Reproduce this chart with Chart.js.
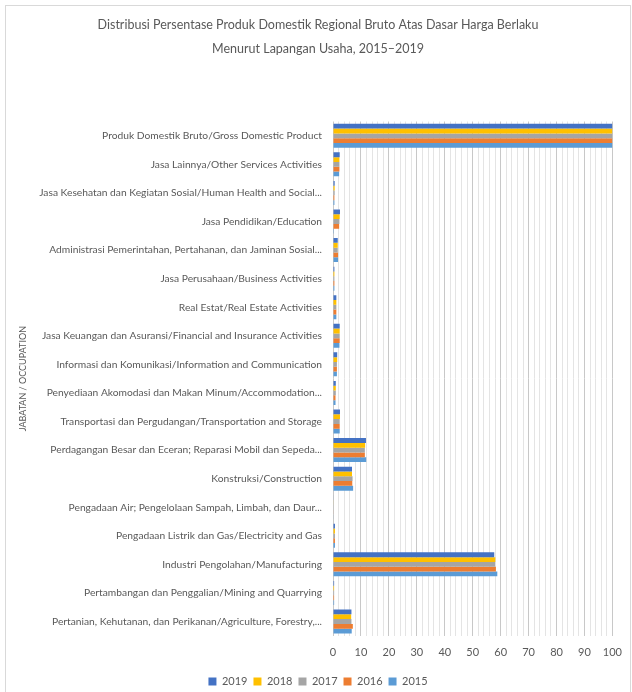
<!DOCTYPE html>
<html>
<head>
<meta charset="utf-8">
<script src="https://cdn.jsdelivr.net/npm/chart.js@4"></script>
<style>
  html, body { margin: 0; padding: 0; background: #fff; }
  #wrap { position: relative; width: 632px; height: 692px; }
  #frame { position: absolute; left: 5px; top: 5px; width: 626px; height: 690px; border: 1px solid #d9d9d9; box-sizing: border-box; }
  canvas { position: absolute; left: 0; top: 0; }
</style>
</head>
<body>
<div id="wrap">
  <div id="frame"></div>
  <canvas id="grafik" width="632" height="692"></canvas>
</div>
<script>
// ===== data =====
const kategori = [
  'Produk Domestik Bruto/Gross Domestic Product',
  'Jasa Lainnya/Other Services Activities',
  'Jasa Kesehatan dan Kegiatan Sosial/Human Health and Social...',
  'Jasa Pendidikan/Education',
  'Administrasi Pemerintahan, Pertahanan, dan Jaminan Sosial...',
  'Jasa Perusahaan/Business Activities',
  'Real Estat/Real Estate Activities',
  'Jasa Keuangan dan Asuransi/Financial and Insurance Activities',
  'Informasi dan Komunikasi/Information and Communication',
  'Penyediaan Akomodasi dan Makan Minum/Accommodation...',
  'Transportasi dan Pergudangan/Transportation and Storage',
  'Perdagangan Besar dan Eceran; Reparasi Mobil dan Sepeda...',
  'Konstruksi/Construction',
  'Pengadaan Air; Pengelolaan Sampah, Limbah, dan Daur...',
  'Pengadaan Listrik dan Gas/Electricity and Gas',
  'Industri Pengolahan/Manufacturing',
  'Pertambangan dan Penggalian/Mining and Quarrying',
  'Pertanian, Kehutanan, dan Perikanan/Agriculture, Forestry,...'
];

const th2019 = [100, 2.4, 0.6, 2.5, 1.7, 0.5, 1.2, 2.4, 1.5, 1.0, 2.5, 11.8, 6.8, 0.2, 0.7, 57.7, 0.4, 6.6];
const th2018 = [100, 2.3, 0.6, 2.4, 1.7, 0.5, 1.2, 2.4, 1.5, 1.0, 2.5, 11.5, 6.8, 0.2, 0.7, 58.1, 0.4, 6.5];
const th2017 = [100, 2.3, 0.6, 2.3, 1.7, 0.5, 1.2, 2.4, 1.4, 1.0, 2.4, 11.4, 7.0, 0.2, 0.7, 58.0, 0.4, 6.6];
const th2016 = [100, 2.3, 0.5, 2.2, 1.8, 0.5, 1.2, 2.4, 1.4, 0.9, 2.4, 11.4, 6.9, 0.2, 0.7, 58.3, 0.4, 7.1];
const th2015 = [100, 2.2, 0.5, 0.3, 1.8, 0.5, 1.2, 2.3, 1.4, 0.9, 2.4, 11.9, 7.2, 0.2, 0.7, 58.8, 0.4, 6.7];

const seri = [
  { label: '2019', data: th2019, color: '#4472c4' },
  { label: '2018', data: th2018, color: '#ffc000' },
  { label: '2017', data: th2017, color: '#a5a5a5' },
  { label: '2016', data: th2016, color: '#ed7d31' },
  { label: '2015', data: th2015, color: '#5b9bd5' }
];

const judul = [
  'Distribusi Persentase Produk Domestik Regional Bruto Atas Dasar Harga Berlaku',
  'Menurut Lapangan Usaha, 2015\u20132019'
];

// ===== chart =====
const fontFam = 'Lato, "Noto Sans", sans-serif';
const abu = '#595959';
const kiri = 18;

const ctx = document.getElementById('grafik').getContext('2d');
new Chart(ctx, {
  type: 'bar',
  data: {
    labels: kategori,
    datasets: seri.map(s => ({
      label: s.label,
      data: s.data,
      backgroundColor: s.color,
      borderWidth: 0,
      categoryPercentage: 0.84,
      barPercentage: 1.0
    }))
  },
  options: {
    indexAxis: 'y',
    responsive: false,
    animation: false,
    layout: { padding: { left: kiri, right: 14, top: 0, bottom: -5 } },
    plugins: {
      title: {
        display: true,
        text: judul,
        color: abu,
        font: { family: fontFam, size: 12.5, weight: 'normal', lineHeight: 1.9 },
        padding: { top: 13, bottom: 61 }
      },
      legend: {
        position: 'bottom',
        labels: {
          color: abu,
          boxWidth: 8,
          boxHeight: 8,
          padding: 6,
          font: { family: fontFam, size: 11 }
        }
      },
      tooltip: { enabled: true }
    },
    scales: {
      x: {
        min: 0,
        max: 100,
        ticks: {
          stepSize: 2,
          autoSkip: false,
          maxRotation: 0,
          color: abu,
          font: { family: fontFam, size: 11 },
          padding: 10,
          callback: v => (v % 10 === 0 ? v : '')
        },
        grid: {
          color: c => (c.tick && c.tick.value % 10 === 0 ? '#c8c8c8' : '#e4e4e4'),
          drawTicks: false
        },
        border: { display: false },
        afterFit: scale => { scale.height += 1; }
      },
      y: {
        ticks: {
          color: abu,
          font: { family: fontFam, size: 10.25 },
          autoSkip: false,
          padding: 3
        },
        grid: { display: false },
        border: { display: false },
        title: {
          display: true,
          text: 'JABATAN / OCCUPATION',
          color: abu,
          font: { family: fontFam, size: 9 },
          padding: { top: 0, bottom: 6 }
        },
        afterFit: scale => { scale.width = 333 - kiri; }
      }
    }
  }
});
</script>
</body>
</html>
